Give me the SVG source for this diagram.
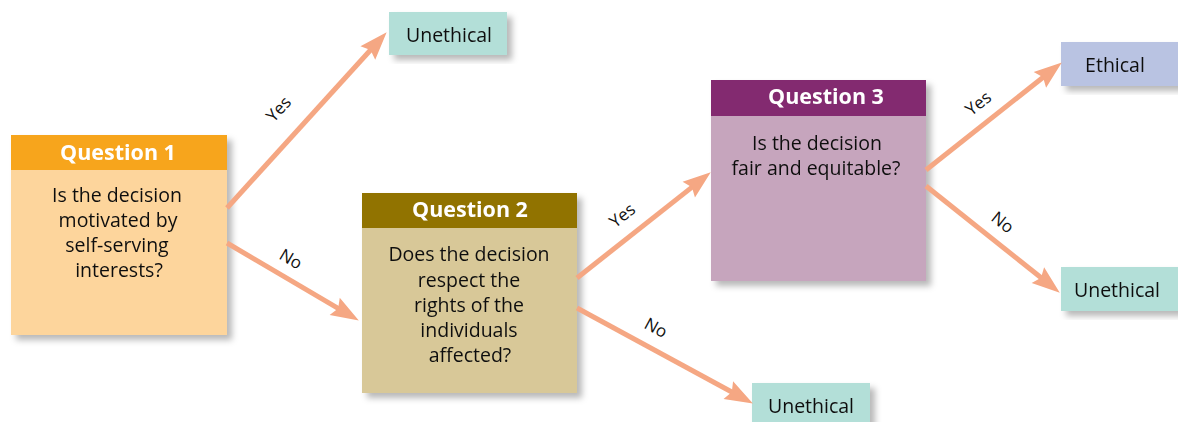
<svg xmlns="http://www.w3.org/2000/svg" width="1178" height="422" viewBox="0 0 1178 422">
<defs>
<filter id="sh" x="-10%" y="-10%" width="130%" height="130%">
<feDropShadow dx="5" dy="5" stdDeviation="3" flood-color="#000" flood-opacity="0.28"/>
</filter>
<marker id="ah" markerUnits="userSpaceOnUse" markerWidth="40" markerHeight="30" refX="0" refY="0" orient="auto" overflow="visible">
<path d="M23,0 L-5,-10 L-1,0 L-5,10 Z" fill="#F5A783"/>
</marker>
</defs>
<style>
.hd{font-family:"Open Sans","Noto Sans",sans-serif;font-weight:bold;font-size:21.5px;fill:#fff;text-anchor:middle}
.bd{font-family:"Open Sans","Noto Sans",sans-serif;font-size:19.5px;fill:#111;text-anchor:middle}
.lb{font-family:"Open Sans","Noto Sans",sans-serif;font-size:17px;fill:#111;text-anchor:middle}
.cn{stroke:#F5A783;stroke-width:5;fill:none;marker-end:url(#ah)}
</style>
<rect width="1178" height="422" fill="#fff"/>
<g id="q1" filter="url(#sh)">
<rect x="11" y="135" width="216" height="200" fill="#FDD59C"/>
<rect x="11" y="135" width="216" height="35" fill="#F7A51E"/>
<text class="hd" x="118" y="160">Question 1</text>
<text class="bd" x="117" y="202">Is the decision</text>
<text class="bd" x="118" y="227">motivated by</text>
<text class="bd" x="117" y="252">self-serving</text>
<text class="bd" x="119" y="277">interests?</text>
</g>
<g id="q2" filter="url(#sh)">
<rect x="362" y="193" width="215" height="200" fill="#D8C898"/>
<rect x="362" y="193" width="215" height="35" fill="#917300"/>
<text class="hd" x="470" y="217">Question 2</text>
<text class="bd" x="469" y="261">Does the decision</text>
<text class="bd" x="469" y="287">respect the</text>
<text class="bd" x="469" y="312">rights of the</text>
<text class="bd" x="469" y="337">individuals</text>
<text class="bd" x="470" y="362">affected?</text>
</g>
<g id="q3" filter="url(#sh)">
<rect x="711" y="80" width="215" height="201" fill="#C6A5BD"/>
<rect x="711" y="80" width="215" height="36" fill="#832A6F"/>
<text class="hd" x="826" y="104">Question 3</text>
<text class="bd" x="817" y="150">Is the decision</text>
<text class="bd" x="816" y="175">fair and equitable?</text>
</g>
<g id="unethical1" filter="url(#sh)">
<rect x="389" y="12" width="118" height="43" fill="#B3DFD8"/>
<text class="bd" x="449" y="42">Unethical</text>
</g>
<g id="unethical2" filter="url(#sh)">
<rect x="752" y="383" width="118" height="45" fill="#B3DFD8"/>
<text class="bd" x="811" y="413">Unethical</text>
</g>
<g id="ethical" filter="url(#sh)">
<rect x="1061" y="42" width="120" height="44" fill="#B9C3E2"/>
<text class="bd" x="1115" y="72">Ethical</text>
</g>
<g id="unethical3" filter="url(#sh)">
<rect x="1061" y="267" width="120" height="44" fill="#B3DFD8"/>
<text class="bd" x="1117" y="297">Unethical</text>
</g>
<g id="connectors">
<line class="cn" x1="227" y1="208" x2="371.2" y2="49.3"/>
<line class="cn" x1="227" y1="243" x2="339" y2="308.9"/>
<line class="cn" x1="577" y1="278" x2="692.7" y2="186.6"/>
<line class="cn" x1="577" y1="308" x2="732.7" y2="392.5"/>
<line class="cn" x1="926" y1="170" x2="1043.8" y2="76.7"/>
<line class="cn" x1="926" y1="186" x2="1041.8" y2="278.3"/>
<text class="lb" transform="translate(283,113) rotate(-47.7)">Yes</text>
<text class="lb" transform="translate(288,264) rotate(30.4)">No</text>
<text class="lb" transform="translate(626,220) rotate(-38.3)">Yes</text>
<text class="lb" transform="translate(653,333) rotate(28.5)">No</text>
<text class="lb" transform="translate(982,108) rotate(-38.4)">Yes</text>
<text class="lb" transform="translate(999,227) rotate(38.6)">No</text>
</g>
</svg>
